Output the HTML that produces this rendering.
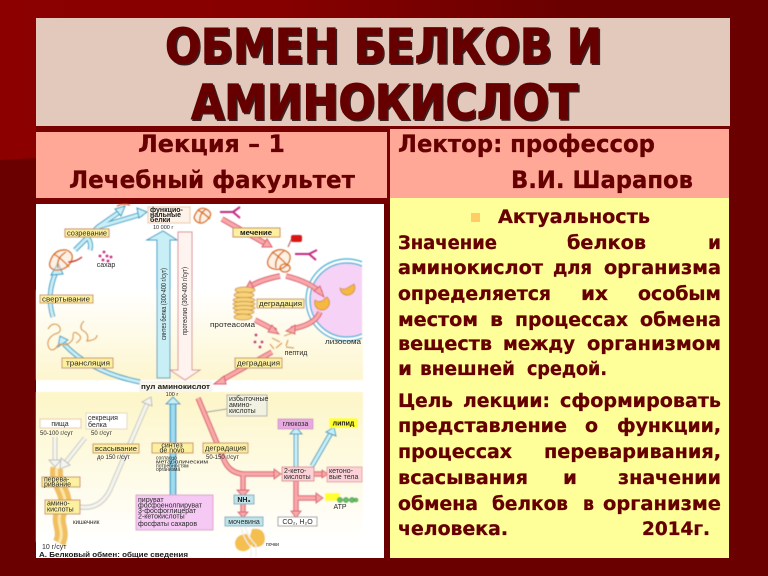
<!DOCTYPE html>
<html><head><meta charset="utf-8"><style>
html,body{margin:0;padding:0;background:#6b0000}
svg{display:block}
.t{font-family:"DejaVu Sans",sans-serif;font-weight:bold;fill:#660000;stroke:#660000;stroke-width:.3px}
.ti{font-size:48px;stroke-width:1px}
.sh{fill:#3a2020;stroke:#3a2020}
.b{font-size:19px}
.h{font-size:24px}
.d text{font-family:"Liberation Sans",sans-serif;fill:#2a2a2a;font-size:7px}
.d .l{font-weight:bold;fill:#1a1a1a}
.lb{fill:#fdf0a0;stroke:#c98a60;stroke-width:1}
</style></head><body>
<svg width="768" height="576" viewBox="0 0 768 576" xmlns="http://www.w3.org/2000/svg">
<defs>
<linearGradient id="bg" gradientUnits="userSpaceOnUse" x1="0" y1="0" x2="560" y2="0"><stop offset="0" stop-color="#8c0000"/><stop offset="0.5" stop-color="#860000"/><stop offset="1" stop-color="#6b0000"/></linearGradient>
<linearGradient id="g1" x1="0" y1="0" x2="0" y2="1"><stop offset="0" stop-color="#fff"/><stop offset="1" stop-color="#fdf6cf"/></linearGradient>
<linearGradient id="g2" x1="0" y1="0" x2="0" y2="1"><stop offset="0" stop-color="#fdf6c8"/><stop offset="1" stop-color="#fff"/></linearGradient>
<filter id="bl"><feGaussianBlur stdDeviation="0.45"/></filter>
<filter id="bt"><feGaussianBlur stdDeviation="0.25"/></filter>
<clipPath id="ly"><rect x="290" y="240" width="72" height="120"/></clipPath>
</defs>
<rect width="768" height="576" fill="#6b0000"/>
<polygon points="0,0 768,0 768,40 36,158 0,160" fill="url(#bg)"/>
<rect x="36" y="18" width="694" height="108" fill="#e3c8bc"/>
<rect x="36" y="126" width="694" height="78" fill="#770000"/>
<text class="t ti sh" x="166.5" y="64.5" textLength="437" lengthAdjust="spacingAndGlyphs">ОБМЕН БЕЛКОВ И</text>
<text class="t ti" x="165" y="63" textLength="437" lengthAdjust="spacingAndGlyphs">ОБМЕН БЕЛКОВ И</text>
<text class="t ti sh" x="192.5" y="120.5" textLength="387" lengthAdjust="spacingAndGlyphs">АМИНОКИСЛОТ</text>
<text class="t ti" x="191" y="119" textLength="387" lengthAdjust="spacingAndGlyphs">АМИНОКИСЛОТ</text>
<rect x="36" y="132" width="351" height="66" fill="#ffa898"/>
<rect x="390" y="129" width="339" height="69" fill="#ffa898"/>
<rect x="390" y="198" width="339" height="360" fill="#ffff99"/>
<rect x="36" y="204" width="348" height="354" fill="#fff"/>
<g class="t h">
<text x="138" y="152" textLength="147" lengthAdjust="spacingAndGlyphs">Лекция – 1</text>
<text x="69" y="188" textLength="286" lengthAdjust="spacingAndGlyphs">Лечебный факультет</text>
<text x="398" y="152" textLength="257" lengthAdjust="spacingAndGlyphs">Лектор: профессор</text>
<text x="511" y="188" textLength="182" lengthAdjust="spacingAndGlyphs">В.И. Шарапов</text>
</g>
<rect x="471" y="213" width="9" height="9" fill="#ffcc66"/>
<g class="t b">
<text x="498" y="223" textLength="152" lengthAdjust="spacingAndGlyphs">Актуальность</text>
<text x="398" y="249" textLength="99" lengthAdjust="spacingAndGlyphs">Значение</text>
<text x="567" y="249" textLength="79" lengthAdjust="spacingAndGlyphs">белков</text>
<text x="708" y="249" textLength="13" lengthAdjust="spacingAndGlyphs">и</text>
<text x="398" y="274" textLength="145" lengthAdjust="spacingAndGlyphs">аминокислот</text>
<text x="553" y="274" textLength="39" lengthAdjust="spacingAndGlyphs">для</text>
<text x="604" y="274" textLength="117" lengthAdjust="spacingAndGlyphs">организма</text>
<text x="398" y="300" textLength="153" lengthAdjust="spacingAndGlyphs">определяется</text>
<text x="581" y="300" textLength="27" lengthAdjust="spacingAndGlyphs">их</text>
<text x="638" y="300" textLength="83" lengthAdjust="spacingAndGlyphs">особым</text>
<text x="398" y="326" textLength="80" lengthAdjust="spacingAndGlyphs">местом</text>
<text x="490" y="326" textLength="13" lengthAdjust="spacingAndGlyphs">в</text>
<text x="515" y="326" textLength="113" lengthAdjust="spacingAndGlyphs">процессах</text>
<text x="640" y="326" textLength="81" lengthAdjust="spacingAndGlyphs">обмена</text>
<text x="398" y="350" textLength="94" lengthAdjust="spacingAndGlyphs">веществ</text>
<text x="503" y="350" textLength="72" lengthAdjust="spacingAndGlyphs">между</text>
<text x="587" y="350" textLength="134" lengthAdjust="spacingAndGlyphs">организмом</text>
<text x="398" y="375" textLength="14" lengthAdjust="spacingAndGlyphs">и</text>
<text x="420" y="375" textLength="95" lengthAdjust="spacingAndGlyphs">внешней</text>
<text x="527" y="375" textLength="80" lengthAdjust="spacingAndGlyphs">средой.</text>
<text x="398" y="407" textLength="55" lengthAdjust="spacingAndGlyphs">Цель</text>
<text x="463" y="407" textLength="87" lengthAdjust="spacingAndGlyphs">лекции:</text>
<text x="560" y="407" textLength="161" lengthAdjust="spacingAndGlyphs">сформировать</text>
<text x="398" y="432" textLength="169" lengthAdjust="spacingAndGlyphs">представление</text>
<text x="585" y="432" textLength="13" lengthAdjust="spacingAndGlyphs">о</text>
<text x="617" y="432" textLength="104" lengthAdjust="spacingAndGlyphs">функции,</text>
<text x="398" y="458" textLength="114" lengthAdjust="spacingAndGlyphs">процессах</text>
<text x="544" y="458" textLength="177" lengthAdjust="spacingAndGlyphs">переваривания,</text>
<text x="398" y="484" textLength="130" lengthAdjust="spacingAndGlyphs">всасывания</text>
<text x="563" y="484" textLength="14" lengthAdjust="spacingAndGlyphs">и</text>
<text x="618" y="484" textLength="103" lengthAdjust="spacingAndGlyphs">значении</text>
<text x="398" y="510" textLength="80" lengthAdjust="spacingAndGlyphs">обмена</text>
<text x="492" y="510" textLength="76" lengthAdjust="spacingAndGlyphs">белков</text>
<text x="583" y="510" textLength="11" lengthAdjust="spacingAndGlyphs">в</text>
<text x="603" y="510" textLength="118" lengthAdjust="spacingAndGlyphs">организме</text>
<text x="398" y="535" textLength="110" lengthAdjust="spacingAndGlyphs">человека.</text>
<text x="642" y="535" textLength="68" lengthAdjust="spacingAndGlyphs">2014г.</text>
</g>

<g class="d">
<g filter="url(#bl)">
<rect x="36" y="290" width="327" height="90" fill="url(#g1)"/>
<rect x="36" y="392" width="327" height="150" fill="url(#g2)"/>
<g clip-path="url(#ly)"><circle cx="347" cy="300" r="41" fill="#fff" stroke="#55b8d8" stroke-width="1.5"/><circle cx="347" cy="300" r="37" fill="#f6d2f6" stroke="#55b8d8" stroke-width="1.5"/></g>
<g fill="none">
<g stroke="#3a9cc4" stroke-width="5">
<path d="M53 317 Q46 295 56 272"/><path d="M140 382 Q90 372 64 344"/><path d="M75 250 L98 227 L121 211"/><path d="M98 227 L142 214"/><path d="M88 238 Q92 244 90 250"/>
<path d="M296 467 V434"/><path d="M312 466 L331 433"/>
</g>
<path d="M173 495 V404" stroke="#3a9cc4" stroke-width="7"/>
<g stroke="#c8eff6" stroke-width="3">
<path d="M53 317 Q46 295 56 272"/><path d="M140 382 Q90 372 64 344"/><path d="M75 250 L98 227 L121 211"/><path d="M98 227 L142 214"/><path d="M88 238 Q92 244 90 250"/>
<path d="M296 467 V434"/><path d="M312 466 L331 433"/>
</g>
<path d="M173 495 V404" stroke="#9fdcf0" stroke-width="4.5"/>
</g>
<g fill="#c8eff6" stroke="#3a9cc4" stroke-width="1">
<polygon points="157,378 170,378 170,240 177,240 163,231 147,240 157,240"/>
<polygon points="51,275 63,274 58,263"/><polygon points="68,340 58,347 60,336"/>
<polygon points="147,212 137,208 139,218"/><polygon points="125,206 115,209 121,216"/>
<polygon points="166,404 180,404 173,397"/><polygon points="290,434 302,434 296,427"/><polygon points="326,432 336,436 334,427"/>
</g>
<path d="M117 206 Q123 203 130 205" stroke="#d85a30" fill="none" stroke-width="1.2"/>
<polygon points="178,232 192,232 192,370 200,370 185,380 170,370 178,370" fill="#fff3f0" stroke="#d89090" stroke-width="1"/>
<g fill="none">
<g stroke="#d85a70" stroke-width="5.5">
<path d="M222 219 L268 245"/><path d="M280 276 Q260 280 249 287"/><path d="M286 276 Q310 282 321 293"/><path d="M255 320 Q265 325 276 331"/><path d="M320 312 Q315 325 291 329"/><path d="M272 352 L222 380"/>
<path d="M198 398 L224 460 Q230 474 245 474 H276"/><path d="M243 474 V490"/><path d="M243 504 V513"/><path d="M314 474 H323"/><path d="M296 481 V512"/><path d="M296 498 H318"/>
</g>
<g stroke="#f9a8a8" stroke-width="3.5">
<path d="M222 219 L268 245"/><path d="M280 276 Q260 280 249 287"/><path d="M286 276 Q310 282 321 293"/><path d="M255 320 Q265 325 276 331"/><path d="M320 312 Q315 325 291 329"/><path d="M272 352 L222 380"/>
<path d="M198 398 L224 460 Q230 474 245 474 H276"/><path d="M243 474 V490"/><path d="M243 504 V513"/><path d="M314 474 H323"/><path d="M296 481 V512"/><path d="M296 498 H318"/>
</g>
</g>
<g fill="#f9a8a8" stroke="#d85a70" stroke-width="1">
<polygon points="272,247 262,247 267,239"/><polygon points="245,290 250,281 254,289"/><polygon points="324,297 314,291 320,286"/>
<polygon points="279,334 268,332 272,325"/><polygon points="286,331 295,325 295,334"/><polygon points="214,384 224,376 226,384"/>
<polygon points="281,474 274,469 274,479"/><polygon points="237,490 249,490 243,497"/><polygon points="238,512 248,512 243,518"/>
<polygon points="328,474 322,470 322,478"/><polygon points="291,511 301,511 296,518"/><polygon points="323,498 316,493 316,503"/>
</g>
<g fill="none" stroke="#c9c9c0" stroke-width="5">
<path d="M55 437 V460"/><path d="M85 438 L66 462"/><path d="M80 507 Q100 510 110 490 L147 404"/>
</g>
<g fill="none" stroke="#f5f5f0" stroke-width="3">
<path d="M55 437 V460"/><path d="M85 438 L66 462"/><path d="M80 507 Q100 510 110 490 L147 404"/>
</g>
<polygon points="49,460 61,460 55,467" fill="#f5f5f0" stroke="#bbb"/><polygon points="61,458 70,465 60,469" fill="#f5f5f0" stroke="#bbb"/><polygon points="142,402 152,406 151,397" fill="#f5f5f0" stroke="#bbb"/>
<g fill="none">
<path d="M57 468 C53 485 72 495 62 510 C54 522 66 530 59 543" stroke="#f0c060" stroke-width="13"/>
<path d="M57 468 C53 485 72 495 62 510 C54 522 66 530 59 543" stroke="#fbe6a8" stroke-width="3"/>
</g>
<g fill="#fce3c8" fill-opacity=".5" stroke="#d8702a" stroke-width="1.3">
<path d="M195 215 q4 -9 11 -6 q8 4 2 10 q-6 7 -12 2 q-3 -3 -1 -6z M198 210 q7 4 12 9 M200 222 q-1 -8 6 -13"/>
<path d="M268 260 q5 -12 15 -10 q10 3 6 12 q-6 9 -15 7 q-8 -2 -6 -9z M272 252 q8 5 16 14 M276 268 q-2 -10 8 -17 M280 268 a5 4 0 1 0 10 0 a5 4 0 1 0 -10 0"/>
<path d="M50 262 q4 -13 16 -12 q9 3 5 12 q-6 9 -16 8 q-7 -2 -5 -8z M54 254 q8 5 15 13 M58 268 q-2 -10 8 -16"/>
</g>
<path d="M68 262 q8 0 14 -5" fill="none" stroke="#c83020" stroke-width="1.2"/>
<g fill="none" stroke="#d8983a" stroke-width="1.2">
<path d="M48 329 q5 -8 11 -3 q4 6 -4 8 q-8 4 -7 11 q2 8 8 3 q3 -6 10 -3 q8 -4 7 -9 q0 -6 5 -2 q6 4 -2 9 M84 321 q-5 5 -2 9 q8 4 5 11 q10 -1 10 -6"/>
<path d="M272 338 l8 4 M284 336 l8 -3 M276 348 l6 -5 M286 347 l8 1 M270 344 l4 5 M288 340 l-2 6"/>
</g>
<g stroke="#c52a80" stroke-width="2" fill="none"><path d="M220 212 H233 M233 212 L240 207 M233 212 L240 218"/><path d="M295 254 H309 M309 254 L317 250 M309 254 L316 260"/></g>
<g fill="#c52a80"><circle cx="104" cy="252" r="1.4"/><circle cx="100" cy="256" r="1.4"/><circle cx="107" cy="256" r="1.4"/><circle cx="111" cy="257" r="1.4"/><circle cx="103" cy="260" r="1.4"/><circle cx="108" cy="261" r="1.4"/>
<circle cx="256" cy="335" r="1.5"/><circle cx="255" cy="342" r="1.5"/><circle cx="262" cy="342" r="1.5"/><circle cx="260" cy="347" r="1.5"/></g>
<path d="M288 247 L292 238" stroke="#a55" fill="none"/><rect x="291" y="235" width="11" height="7" rx="2" fill="#d81818"/>
<g fill="#f6d27a" stroke="#c88a30" stroke-width=".8">
<ellipse cx="245" cy="290" rx="10" ry="3"/><ellipse cx="244" cy="295" rx="10" ry="3"/><ellipse cx="244" cy="300" rx="11" ry="2.5"/><ellipse cx="244" cy="304" rx="11" ry="2.5"/><ellipse cx="244" cy="308" rx="11" ry="2.5"/><ellipse cx="244" cy="312" rx="10" ry="2.5"/><ellipse cx="243" cy="317" rx="9" ry="3"/>
</g>
<path d="M347 288 L354 284 A7.5 7.5 0 1 1 340 288 A7 7 0 0 0 347 288z" fill="#f5b840" stroke="#c88020" stroke-width=".7"/>
<path d="M322 301 L327 297 A7.5 7.5 0 1 1 315 300 A7 7 0 0 0 322 301z" fill="#f5b840" stroke="#c88020" stroke-width=".7"/>
<path d="M252 529 q12 -2 13 9 q0 10 -12 9 q-5 -6 -3 -11z" fill="#f4bf50"/><path d="M247 534 q-10 0 -12 8 q0 10 10 9 q7 -2 6 -9z" fill="#f4bf50"/>
<path d="M245 527 Q250 540 256 545 V557 M241 527 Q244 540 251 547 V557" fill="none" stroke="#eee" stroke-width="1.2"/>
<rect x="148" y="207" width="42" height="16" fill="#fdf3e8" stroke="#e8c8a8"/>
<rect x="65" y="229" width="44" height="8" class="lb"/><rect x="40" y="295" width="53" height="8" class="lb"/><rect x="62" y="358" width="51" height="10" class="lb"/>
<rect x="233" y="228" width="47" height="9" class="lb"/><rect x="257" y="299" width="47" height="9" class="lb"/><rect x="235" y="358" width="47" height="10" class="lb"/>
<rect x="140" y="382" width="71" height="9" fill="#fbf8ec" stroke="#eee"/>
<rect x="40" y="419" width="41" height="9" fill="#fff" stroke="#e8c8a8"/><rect x="86" y="413" width="41" height="16" fill="#fff" stroke="#e8d8b8"/>
<rect x="93" y="444" width="46" height="9" class="lb"/><rect x="152" y="443" width="41" height="10" class="lb"/><rect x="203" y="443" width="45" height="10" class="lb"/>
<rect x="42" y="477" width="38" height="10" class="lb"/><rect x="45" y="500" width="35" height="14" class="lb"/>
<rect x="136" y="495" width="77" height="35" fill="#f6c8f4" stroke="#d8a0c8"/>
<rect x="227" y="395" width="40" height="21" fill="#f2f2e2" stroke="#aaa"/><path d="M207 412 L227 409" stroke="#999" fill="none"/>
<rect x="278" y="419" width="35" height="10" fill="#e8a8e0" stroke="#c088c0" stroke-width=".7"/><rect x="329" y="418" width="29" height="10" fill="#ffff30"/>
<rect x="282" y="467" width="32" height="14" fill="#fcd2d8" stroke="#d88"/><rect x="327" y="467" width="35" height="15" fill="#fcd2d8" stroke="#d88" stroke-width=".7"/>
<rect x="234" y="495" width="20" height="9" fill="#c0e4ec" stroke="#7ab"/><rect x="225" y="517" width="38" height="9" fill="#c0e4ec" stroke="#7ab"/>
<rect x="278" y="517" width="39" height="9" fill="#fff" stroke="#999"/>
<rect x="325" y="493" width="15" height="8" fill="#ffff30"/><g fill="#66c060" stroke="#2a8a40" stroke-width=".6"><circle cx="340" cy="500" r="2.6"/><circle cx="346" cy="500" r="2.6"/><circle cx="352" cy="500" r="2.6"/><circle cx="356" cy="500" r="2"/></g>
</g>
<g filter="url(#bt)">
<text class="l" x="150" y="212">функцио-</text><text class="l" x="150" y="217">нальные</text><text class="l" x="150" y="222">белки</text>
<text x="153" y="229" style="font-size:5.5px">10 000 г</text>
<text transform="translate(166 340) rotate(-90)" textLength="72" lengthAdjust="spacingAndGlyphs">синтез белка (300-400 г/сут)</text>
<text transform="translate(187 335) rotate(-90)" textLength="68" lengthAdjust="spacingAndGlyphs">протеолиз (300-400 г/сут)</text>
<text x="67" y="235.5" textLength="40" lengthAdjust="spacingAndGlyphs">созревание</text>
<text x="106" y="267" text-anchor="middle">сахар</text>
<text x="42" y="301.5" textLength="48" lengthAdjust="spacingAndGlyphs">свертывание</text>
<text x="66" y="365.5" textLength="44" lengthAdjust="spacingAndGlyphs">трансляция</text>
<text x="240" y="235" class="l" textLength="32" lengthAdjust="spacingAndGlyphs">мечение</text>
<text x="259" y="306" textLength="43" lengthAdjust="spacingAndGlyphs">деградация</text>
<text x="210" y="327" textLength="45" lengthAdjust="spacingAndGlyphs">протеасома</text>
<text x="325" y="344" textLength="36" lengthAdjust="spacingAndGlyphs">лизосома</text>
<text x="296" y="355" text-anchor="middle">пептид</text>
<text x="237" y="365.5" textLength="43" lengthAdjust="spacingAndGlyphs">деградация</text>
<text class="l" x="141" y="389" textLength="69" lengthAdjust="spacingAndGlyphs">пул аминокислот</text>
<text x="172" y="396" text-anchor="middle" style="font-size:5.5px">100 г</text>
<text x="60" y="426" text-anchor="middle">пища</text>
<text x="88" y="420">секреция</text><text x="88" y="427">белка</text>
<text x="40" y="435" style="font-size:6px">50-100 г/сут</text><text x="91" y="435" style="font-size:6px">50 г/сут</text>
<text x="95" y="451" textLength="42" lengthAdjust="spacingAndGlyphs">всасывание</text>
<text x="97" y="459" style="font-size:6px">до 150 г/сут</text>
<text x="172" y="447.5" text-anchor="middle">синтез</text><text x="172" y="452.5" text-anchor="middle">de novo</text>
<text x="156" y="459.5" style="font-size:5px">согласно</text><text x="156" y="463.5" style="font-size:5px" textLength="52" lengthAdjust="spacingAndGlyphs">метаболическим</text><text x="156" y="467.5" style="font-size:5px">потребностям</text><text x="156" y="471" style="font-size:5px">организма</text>
<text x="205" y="450.5" textLength="41" lengthAdjust="spacingAndGlyphs">деградация</text>
<text x="206" y="459" style="font-size:6px">50-150 г/сут</text>
<text x="44" y="481.5">перева-</text><text x="44" y="486.5">ривание</text>
<text x="47" y="505.5">амино-</text><text x="47" y="511.5">кислоты</text>
<text x="73" y="524" style="font-size:6px">кишечник</text>
<text x="42" y="549">10 г/сут</text>
<text class="l" x="39" y="557" textLength="149" lengthAdjust="spacingAndGlyphs">А. Белковый обмен: общие сведения</text>
<text x="138" y="502">пируват</text><text x="138" y="507.5">фосфоенолпируват</text><text x="138" y="513">3-фосфоглицерат</text><text x="138" y="518.5">2-кетокислоты</text><text x="138" y="526">фосфаты сахаров</text>
<text x="229" y="401">избыточные</text><text x="229" y="407">амино-</text><text x="229" y="413">кислоты</text>
<text x="295.5" y="426" text-anchor="middle">глюкоза</text><text x="343.5" y="425.5" text-anchor="middle" class="l">липид</text>
<text x="284" y="473">2-кето-</text><text x="284" y="479">кислоты</text>
<text x="329" y="473">кетоно-</text><text x="329" y="479">вые тела</text>
<text x="244" y="502" text-anchor="middle" class="l">NH₃</text>
<text x="244" y="524" text-anchor="middle">мочевина</text>
<text x="297.5" y="524" text-anchor="middle">CO₂, H₂O</text>
<text x="340" y="509" text-anchor="middle">ATP</text>
<text x="266" y="546" style="font-size:5px">почки</text>
</g>
</g>
</svg>
</body></html>
